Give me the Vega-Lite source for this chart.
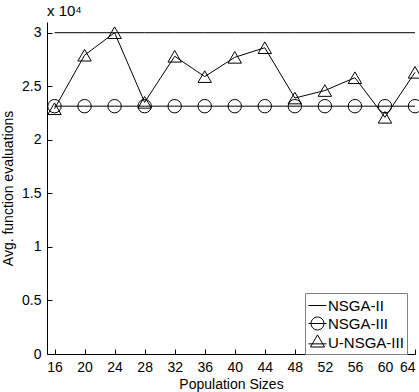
{
  "$schema": "https://vega.github.io/schema/vega-lite/v6.json",
  "width": 368,
  "height": 332,
  "autosize": "none",
  "padding": {"left": 47, "top": 22, "right": 4, "bottom": 38},
  "background": "white",
  "title": {"text": "x 10⁴", "anchor": "start", "frame": "group", "fontSize": 15, "fontWeight": "normal", "font": "Liberation Sans", "color": "black", "offset": 3},
  "config": {
    "view": {"stroke": null},
    "axis": {"domainColor": "black", "tickColor": "black", "labelColor": "black", "titleColor": "black", "labelFont": "Liberation Sans", "titleFont": "Liberation Sans", "labelFontSize": 14, "titleFontSize": 14, "titleFontWeight": "normal", "grid": false, "domainWidth": 1, "tickWidth": 1}
  },
  "data": {"values": [
    {"x": 16, "series": "NSGA-II", "y": 30000},
    {"x": 20, "series": "NSGA-II", "y": 30000},
    {"x": 24, "series": "NSGA-II", "y": 30000},
    {"x": 28, "series": "NSGA-II", "y": 30000},
    {"x": 32, "series": "NSGA-II", "y": 30000},
    {"x": 36, "series": "NSGA-II", "y": 30000},
    {"x": 40, "series": "NSGA-II", "y": 30000},
    {"x": 44, "series": "NSGA-II", "y": 30000},
    {"x": 48, "series": "NSGA-II", "y": 30000},
    {"x": 52, "series": "NSGA-II", "y": 30000},
    {"x": 56, "series": "NSGA-II", "y": 30000},
    {"x": 60, "series": "NSGA-II", "y": 30000},
    {"x": 64, "series": "NSGA-II", "y": 30000},
    {"x": 16, "series": "NSGA-III", "y": 23140},
    {"x": 20, "series": "NSGA-III", "y": 23140},
    {"x": 24, "series": "NSGA-III", "y": 23140},
    {"x": 28, "series": "NSGA-III", "y": 23140},
    {"x": 32, "series": "NSGA-III", "y": 23140},
    {"x": 36, "series": "NSGA-III", "y": 23140},
    {"x": 40, "series": "NSGA-III", "y": 23140},
    {"x": 44, "series": "NSGA-III", "y": 23140},
    {"x": 48, "series": "NSGA-III", "y": 23140},
    {"x": 52, "series": "NSGA-III", "y": 23140},
    {"x": 56, "series": "NSGA-III", "y": 23140},
    {"x": 60, "series": "NSGA-III", "y": 23140},
    {"x": 64, "series": "NSGA-III", "y": 23140},
    {"x": 16, "series": "U-NSGA-III", "y": 22900},
    {"x": 20, "series": "U-NSGA-III", "y": 27900},
    {"x": 24, "series": "U-NSGA-III", "y": 30000},
    {"x": 28, "series": "U-NSGA-III", "y": 23500},
    {"x": 32, "series": "U-NSGA-III", "y": 27800},
    {"x": 36, "series": "U-NSGA-III", "y": 25900},
    {"x": 40, "series": "U-NSGA-III", "y": 27700},
    {"x": 44, "series": "U-NSGA-III", "y": 28600},
    {"x": 48, "series": "U-NSGA-III", "y": 23900},
    {"x": 52, "series": "U-NSGA-III", "y": 24600},
    {"x": 56, "series": "U-NSGA-III", "y": 25800},
    {"x": 60, "series": "U-NSGA-III", "y": 22100},
    {"x": 64, "series": "U-NSGA-III", "y": 26300}
  ]},
  "encoding": {
    "x": {"field": "x", "type": "quantitative", "scale": {"domain": [15, 64], "nice": false, "zero": false},
      "axis": {"values": [16, 20, 24, 28, 32, 36, 40, 44, 48, 52, 56, 60, 64], "title": "Population Sizes", "tickSize": -5, "labelPadding": 11, "titlePadding": 3, "labelFlush": 1}},
    "y": {"field": "y", "type": "quantitative", "scale": {"domain": [0, 31000], "nice": false},
      "axis": {"values": [0, 5000, 10000, 15000, 20000, 25000, 30000], "labelExpr": "datum.value / 10000", "title": "Avg. function evaluations", "tickSize": -5, "labelPadding": 11, "titlePadding": 6}}
  },
  "layer": [
    {
      "mark": {"type": "line", "color": "black", "strokeWidth": 1},
      "encoding": {"detail": {"field": "series"}}
    },
    {
      "transform": [{"filter": "datum.series !== 'NSGA-II'"}],
      "mark": {"type": "point", "filled": false, "color": "black", "strokeWidth": 1, "size": 180, "opacity": 1},
      "encoding": {
        "shape": {"field": "series", "type": "nominal", "scale": {"domain": ["NSGA-III", "U-NSGA-III"], "range": ["circle", "triangle-up"]}, "legend": null}
      }
    },
    {
      "mark": {"type": "point", "filled": false, "color": "black", "strokeWidth": 1, "size": 180, "opacity": 0},
      "encoding": {
        "shape": {"field": "series", "type": "nominal",
          "scale": {"domain": ["NSGA-II", "NSGA-III", "U-NSGA-III"], "range": ["M-1,0H1", "M-1,0H1M0.72,0A0.72,0.72 0 1,1 -0.72,0A0.72,0.72 0 1,1 0.72,0Z", "M-1,0.15H1M-0.78,0.5L0,-0.85L0.78,0.5Z"]},
          "legend": {"title": null, "orient": "none", "legendX": 258, "legendY": 271, "strokeColor": "#808080", "fillColor": "white", "padding": 3, "labelFont": "Liberation Sans", "labelFontSize": 15, "labelColor": "black", "symbolSize": 324, "symbolStrokeWidth": 1, "symbolStrokeColor": "black", "symbolFillColor": "transparent", "symbolOpacity": 1, "rowPadding": 0, "labelOffset": 1, "labelLimit": 0}}
      }
    }
  ],
  "resolve": {"scale": {"shape": "independent"}}
}
